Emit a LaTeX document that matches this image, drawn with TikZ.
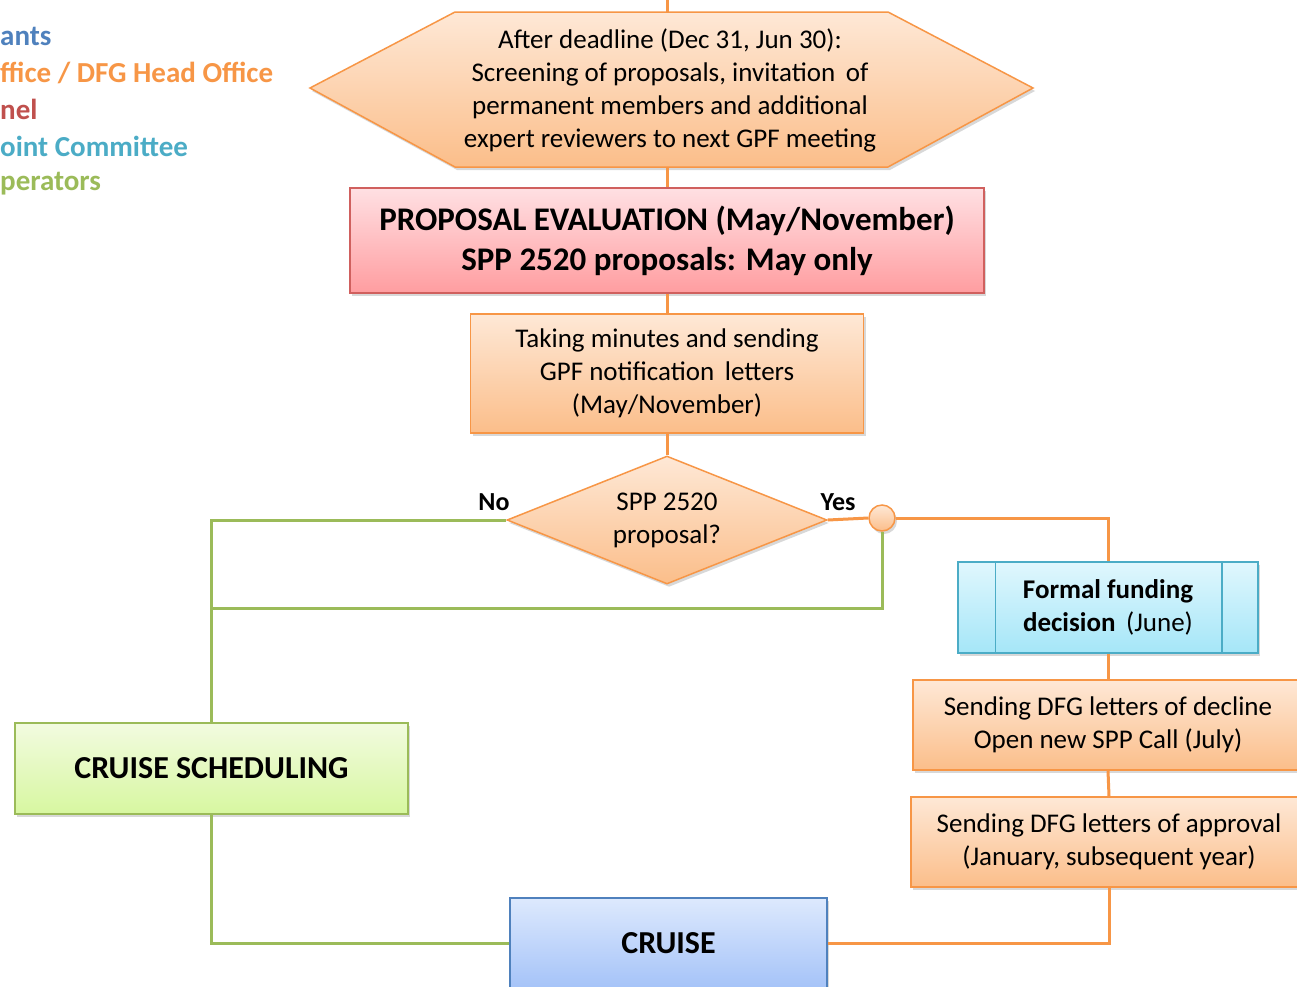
\documentclass[tikz,border=0pt]{standalone}
\usepackage{fontspec}
\setmainfont{Carlito}
\usetikzlibrary{shapes.geometric,shadows}
\definecolor{orgline}{HTML}{F79646}
\definecolor{orgtop}{HTML}{FEE8D6}
\definecolor{orgbot}{HTML}{FBBE8A}
\definecolor{redline}{HTML}{D0605E}
\definecolor{redtop}{HTML}{FFE0E3}
\definecolor{redbot}{HTML}{FF9DA0}
\definecolor{grnline}{HTML}{9BBB59}
\definecolor{grntop}{HTML}{F2FBE0}
\definecolor{grnbot}{HTML}{D7F7A0}
\definecolor{cyanline}{HTML}{4BACC6}
\definecolor{cyantop}{HTML}{E0F7FD}
\definecolor{cyanbot}{HTML}{A5E6F8}
\definecolor{blueline}{HTML}{4F81BD}
\definecolor{bluetop}{HTML}{DDE9FD}
\definecolor{bluebot}{HTML}{A5C3F8}
\definecolor{legblue}{HTML}{4F81BD}
\definecolor{legorange}{HTML}{F79646}
\definecolor{legred}{HTML}{C0504D}
\definecolor{legcyan}{HTML}{4BACC6}
\definecolor{leggreen}{HTML}{9BBB59}
\tikzset{
  shad/.style={drop shadow={shadow xshift=2pt, shadow yshift=-3pt, opacity=0.3}},
  box/.style={draw, line width=1.5pt, align=center, inner sep=0pt, shad},
  orangebox/.style={box, draw=orgline, top color=orgtop, bottom color=orgbot},
  redbox/.style={box, draw=redline, top color=redtop, bottom color=redbot},
  greenbox/.style={box, draw=grnline, top color=grntop, bottom color=grnbot},
  cyanbox/.style={box, draw=cyanline, top color=cyantop, bottom color=cyanbot},
  bluebox/.style={box, draw=blueline, top color=bluetop, bottom color=bluebot},
  oline/.style={draw=orgline, line width=3pt},
  gline/.style={draw=grnline, line width=3pt},
  legend/.style={anchor=west, inner sep=0pt, font=\fontsize{29}{34}\selectfont\bfseries},
  txt/.style={font=\fontsize{27}{33}\selectfont},
  lbl/.style={inner sep=0pt, font=\fontsize{26}{30}\selectfont\bfseries},
}
\begin{document}
\begin{tikzpicture}[x=1pt,y=-1pt]
\clip (0,0) rectangle (1297,986);
\fill[white] (0,0) rectangle (1297,986);
% legend
\node[legend, text=legblue] (lg1) at (0,36) {ants};
\node[legend, text=legorange] (lg2) at (0,73) {ffice / DFG Head Office};
\node[legend, text=legred] (lg3) at (0,109) {nel};
\node[legend, text=legcyan] (lg4) at (0,146) {oint Committee};
\node[legend, text=leggreen] (lg5) at (0,184) {perators};
% hexagon
\path[draw=orgline, line width=1.5pt, top color=orgtop, bottom color=orgbot, shad]
  (310,88) -- (455,12) -- (888,12) -- (1033,88) -- (888,167) -- (455,167) -- cycle;
\coordinate (hextop) at (667,12);
\coordinate (hexbot) at (667,167);
\coordinate (topend) at (667,0);
\node[txt, align=center] (hex) at (670,90) {After deadline (Dec 31, Jun 30):\\Screening of proposals, invitation\, of\\permanent members and additional\\expert reviewers to next GPF meeting};
% boxes
\node[redbox, minimum width=634, minimum height=105, font=\fontsize{33}{40}\selectfont\bfseries] (eval) at (667,240.5)
  {PROPOSAL EVALUATION (May/November)\\SPP 2520 proposals: May only};
\node[orangebox, txt, minimum width=393, minimum height=119] (minutes) at (667,373.5)
  {Taking minutes and sending\\GPF notification\, letters\\(May/November)};
\node[diamond, draw=orgline, line width=1.5pt, top color=orgtop, bottom color=orgbot, shad,
  minimum width=320, minimum height=128, inner sep=0pt] (dia) at (667,520) {};
\node[txt, align=center, inner sep=0pt] (diatxt) at (dia.center) {SPP 2520\\proposal?};
\node[circle, draw=orgline, line width=1.5pt, top color=orgtop, bottom color=orgbot, shad,
  minimum size=26, inner sep=0pt] (circ) at (882,518) {};
\node[cyanbox, txt, minimum width=300, minimum height=91] (fund) at (1108,607.5)
  {\textbf{Formal funding}\\\textbf{decision}\, (June)};
\draw[cyanline, line width=1.5pt] ([xshift=38]fund.north west) -- ([xshift=38]fund.south west);
\draw[cyanline, line width=1.5pt] ([xshift=-37]fund.north east) -- ([xshift=-37]fund.south east);
\node[orangebox, txt, minimum width=390, minimum height=90] (decl) at (1108,725)
  {Sending DFG letters of decline\\Open new SPP Call (July)};
\node[orangebox, txt, minimum width=396, minimum height=90] (appr) at (1109,842)
  {Sending DFG letters of approval\\(January, subsequent year)};
\node[greenbox, minimum width=393, minimum height=91, font=\fontsize{32}{36}\selectfont\bfseries] (sched) at (211.5,768.5)
  {CRUISE SCHEDULING};
\node[bluebox, minimum width=317, minimum height=90, font=\fontsize{32}{36}\selectfont\bfseries] (cruise) at (668.5,943)
  {CRUISE};
% labels
\node[lbl] (no) at (494,502) {No};
\node[lbl] (yes) at (838,502) {Yes};
% connectors
\coordinate (gmerge) at (211.5,608);
\draw[oline] (topend) -- (hextop);
\draw[oline] (hexbot) -- (eval.north);
\draw[oline] (eval.south) -- (minutes.north);
\draw[oline] (minutes.south) -- (dia.north);
\draw[gline] (dia.west) -| (sched.north);
\draw[gline] (circ.south) |- (gmerge);
\draw[oline] (dia.east) -- (circ.west);
\draw[oline] (circ.east) -| (fund.north);
\draw[oline] (fund.south) -- (decl.north);
\draw[oline] (decl.south) -- (appr.north);
\draw[oline] (appr.south) |- (cruise.east);
\draw[gline] (sched.south) |- (cruise.west);
\end{tikzpicture}
\end{document}
